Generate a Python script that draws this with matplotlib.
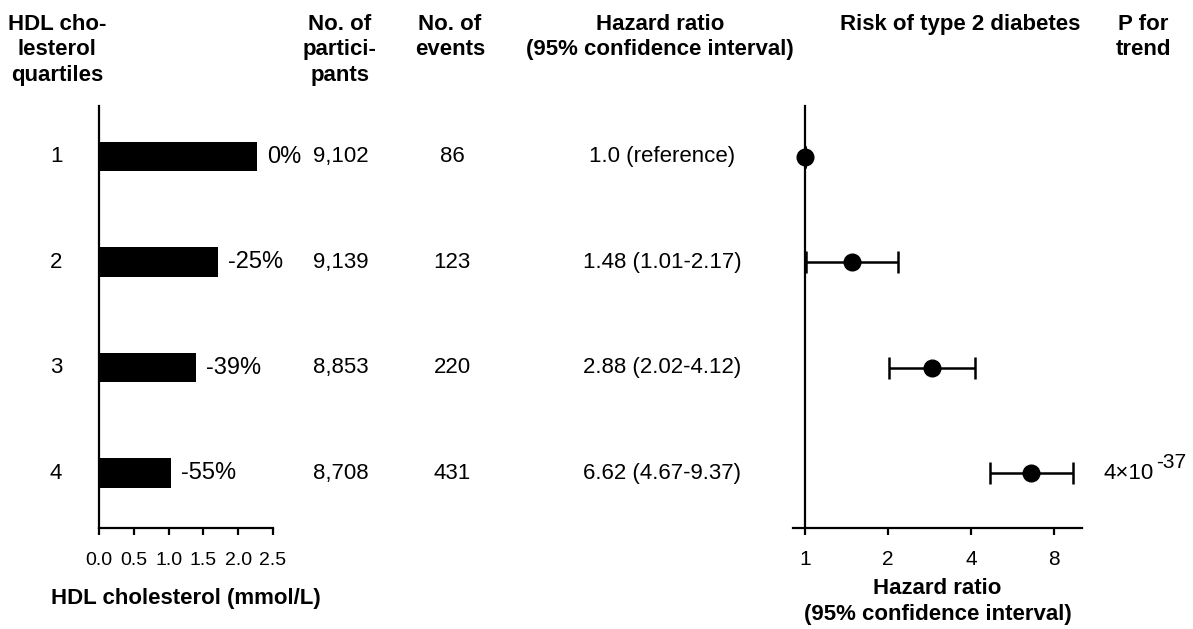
import numpy as np
import matplotlib
matplotlib.use("Agg")
import matplotlib.pyplot as plt
from matplotlib.transforms import blended_transform_factory

plt.rcParams["font.family"] = ["Liberation Sans", "DejaVu Sans"]

quartiles = ["1", "2", "3", "4"]
hdl = [2.27, 1.71, 1.40, 1.04]
hdl_change = ["0%", "-25%", "-39%", "-55%"]
participants = [9102, 9139, 8853, 8708]
events = [86, 123, 220, 431]
hr = [1.0, 1.48, 2.88, 6.62]
hr_lo = [1.0, 1.01, 2.02, 4.67]
hr_hi = [1.0, 2.17, 4.12, 9.37]
p_base, p_exp = "4×10", "-37"

W, H = 1193, 629
fig = plt.figure(figsize=(W / 100, H / 100), dpi=100)

rows = np.arange(1, len(quartiles) + 1)

# bar panel
ax = fig.add_axes([99 / W, (H - 528) / H, 174 / W, 422 / H])
ax.barh(rows, hdl, height=0.28, color="black")
ax.set_xlim(0, 2.5)
ax.set_ylim(4.52, 0.52)
ax.set_xticks([0, 0.5, 1.0, 1.5, 2.0, 2.5])
ax.set_xticklabels(["0.0", "0.5", "1.0", "1.5", "2.0", "2.5"])
ax.set_yticks([])
for s in ["top", "right"]:
    ax.spines[s].set_visible(False)
for s in ["left", "bottom"]:
    ax.spines[s].set_linewidth(1.6)
ax.tick_params(axis="x", length=5, width=1.6, labelsize=14, pad=12)
ax.set_xlabel("HDL cholesterol (mmol/L)", fontsize=16, fontweight="bold", labelpad=14)
for r, v, lab in zip(rows, hdl, hdl_change):
    ax.annotate(lab, (v, r), xytext=(7, 0), textcoords="offset points",
                va="center", ha="left", fontsize=17, annotation_clip=False)

# table columns
tr = blended_transform_factory(fig.transFigure, ax.transData)
for r, q, n, e, h, lo, hi in zip(rows, quartiles, participants, events, hr, hr_lo, hr_hi):
    fig.text(56 / W, r, q, transform=tr, ha="center", va="center", fontsize=16)
    fig.text(341 / W, r, f"{n:,}", transform=tr, ha="center", va="center", fontsize=16)
    fig.text(452 / W, r, str(e), transform=tr, ha="center", va="center", fontsize=16)
    if r == 1:
        txt = f"{h:.1f} (reference)"
    else:
        txt = f"{h:.2f} ({lo:.2f}-{hi:.2f})"
    fig.text(662 / W, r, txt, transform=tr, ha="center", va="center", fontsize=16)

# forest panel
ax2 = fig.add_axes([793 / W, (H - 528) / H, 289 / W, 422 / H])
hr_a = np.array(hr)
ax2.errorbar(hr_a, rows, xerr=[hr_a - np.array(hr_lo), np.array(hr_hi) - hr_a],
             fmt="o", color="black", ms=12, elinewidth=1.8, capsize=8, capthick=1.8)
ax2.set_xscale("log", base=2)
ax2.set_xlim(0.905, 10.1)
ax2.set_ylim(4.52, 0.52)
ax2.set_xticks([1, 2, 4, 8])
ax2.set_xticklabels(["1", "2", "4", "8"])
ax2.xaxis.set_minor_locator(matplotlib.ticker.NullLocator())
ax2.set_yticks([])
for s in ["top", "right"]:
    ax2.spines[s].set_visible(False)
ax2.spines["left"].set_position(("data", 1))
for s in ["left", "bottom"]:
    ax2.spines[s].set_linewidth(1.6)
ax2.tick_params(axis="x", length=5, width=1.6, labelsize=15, pad=11)
ax2.set_xlabel("Hazard ratio\n(95% confidence interval)", fontsize=16,
               fontweight="bold", labelpad=6, linespacing=1.35)
tr2 = blended_transform_factory(fig.transFigure, ax2.transData)
pt = fig.text(1104 / W, rows[-1], p_base, transform=tr2, ha="left", va="center", fontsize=16)
ax2.annotate(p_exp, xy=(1.0, 0.5), xycoords=pt, xytext=(1, 1), textcoords="offset points",
             ha="left", va="bottom", fontsize=15, annotation_clip=False)

# headers
hdr = dict(ha="center", va="top", fontsize=16, fontweight="bold", linespacing=1.28)
top = 1 - 14 / H
fig.text(57 / W, top, "HDL cho-\nlesterol\nquartiles", **hdr)
fig.text(340 / W, top, "No. of\npartici-\npants", **hdr)
fig.text(450 / W, top, "No. of\nevents", **hdr)
fig.text(660 / W, top, "Hazard ratio\n(95% confidence interval)", **hdr)
fig.text(960 / W, top, "Risk of type 2 diabetes", **hdr)
fig.text(1143 / W, top, "P for\ntrend", **hdr)

fig.savefig("out.png", dpi=100)
